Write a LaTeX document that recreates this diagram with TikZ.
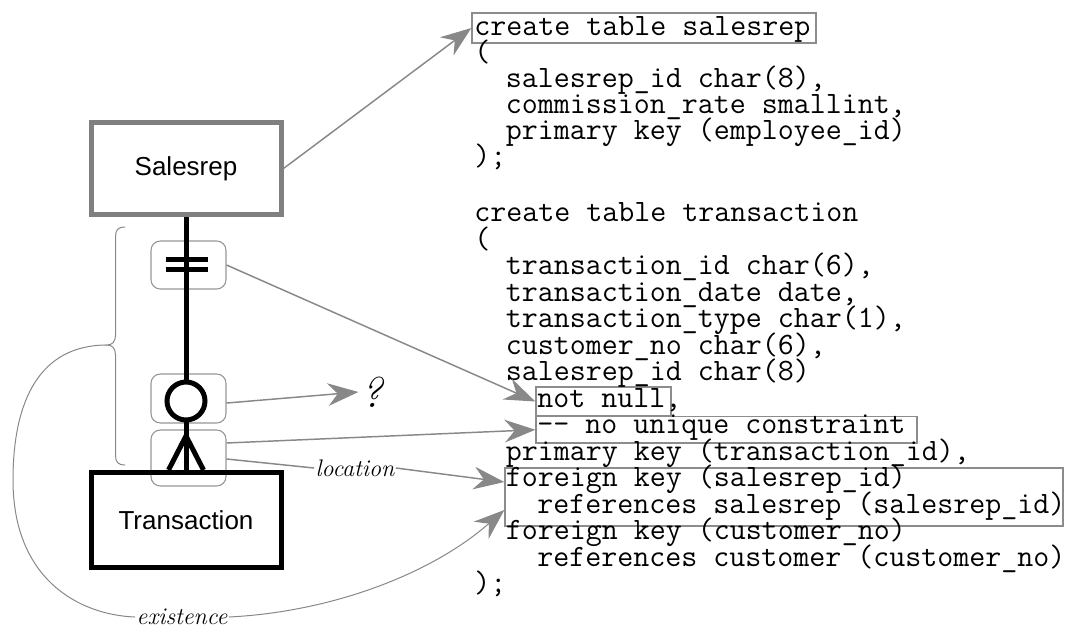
\documentclass[tikz,border=0pt]{standalone}
\usepackage{fontspec}
\newfontfamily\sansf{Liberation Sans}
\usetikzlibrary{arrows.meta,calc}
\definecolor{ag}{RGB}{136,136,136}
\definecolor{bg}{RGB}{140,140,140}
\definecolor{rg}{RGB}{150,150,150}
\definecolor{eg}{RGB}{128,128,128}
\begin{document}
\begin{tikzpicture}[x=0.75pt,y=-0.75pt,
  code/.style={anchor=base west, inner sep=0pt, font=\fontsize{23.3pt}{26pt}\ttfamily},
  codebox/.style={draw=bg, line width=1pt, inner sep=0pt},
  ent/.style={inner sep=0pt, font=\fontsize{19.5pt}{22pt}\sansf},
  rbox/.style={draw=rg, line width=0.8pt, rounded corners=7pt, minimum width=56.25pt, inner sep=0pt},
  arr/.style={draw=ag, line width=1.1pt, -{Stealth[length=23pt,width=17pt,inset=7.5pt]}},
  thinl/.style={draw=ag, line width=0.75pt},
  lbl/.style={inner sep=1pt, font=\fontsize{18pt}{20pt}\selectfont\itshape},
  sym/.style={line width=3.75pt, black}
]
\useasboundingbox (0,0) rectangle (1066,628);

% ---- code boxes
\node[codebox, minimum width=258pt, minimum height=22.5pt] (cs) at (644,28) {};
\node[codebox, minimum width=101.25pt, minimum height=21.75pt] (nn) at (603.5,401.5) {};
\node[codebox, minimum width=285.75pt, minimum height=19.9pt] (nu) at (726.5,429.75) {};
\node[codebox, minimum width=418.5pt, minimum height=43.5pt] (fk) at (784,497) {};

% ---- salesrep table
\node[code] (s0) at (474,35) {create table salesrep};
\node[code] (s1) at (474,61.1) {(};
\node[code] (s2) at (505.6,87.2) {salesrep\_id char(8),};
\node[code] (s3) at (505.6,113.3) {commission\_rate smallint,};
\node[code] (s4) at (505.6,139.4) {primary key (employee\_id)};
\node[code] (s5) at (474,165.5) {);};

% ---- transaction table
\node[code] (t0) at (474,221.5) {create table transaction};
\node[code] (t1) at (474,248) {(};
\node[code] (t2) at (505.6,274.5) {transaction\_id char(6),};
\node[code] (t3) at (505.6,301) {transaction\_date date,};
\node[code] (t4) at (505.6,327.5) {transaction\_type char(1),};
\node[code] (t5) at (505.6,354) {customer\_no char(6),};
\node[code] (t6) at (505.6,380.5) {salesrep\_id char(8)};
\node[code] (t7) at (537.2,407) {not null,};
\node[code] (t8) at (537.2,433.5) {-\kern0pt- no unique constraint};
\node[code] (t9) at (505.6,460) {primary key (transaction\_id),};
\node[code] (t10) at (505.6,486.5) {foreign key (salesrep\_id)};
\node[code] (t11) at (537.2,513) {references salesrep (salesrep\_id)};
\node[code] (t12) at (505.6,539.5) {foreign key (customer\_no)};
\node[code] (t13) at (537.2,566) {references customer (customer\_no)};
\node[code] (t14) at (474,592.5) {);};

% ---- ER diagram
\node[rbox, minimum height=36pt] (r1) at (188.5,265) {};
\node[rbox, minimum height=36.75pt] (r2) at (188.5,398.5) {};
\node[rbox, minimum height=42pt] (r3) at (188.5,458) {};

\node[ent, draw=eg, line width=3.75pt, minimum width=142.5pt, minimum height=69pt] (sr) at (186,168.5) {Salesrep};
\node[ent, draw=black, line width=3.75pt, minimum width=142.5pt, minimum height=71.25pt] (tr) at (186,520) {Transaction};

\draw[sym] (sr.south) -- (tr.north);
\draw[sym] (165.5,259) -- (207.5,259);
\draw[sym] (165.5,269) -- (207.5,269);
\draw[sym, fill=white] (186,401) circle[radius=14.25pt];
\draw[sym, line join=round] (168.5,470) -- (186,436) -- (203.5,470);

% ---- brace
\draw[thinl] (125,227) .. controls (118,227) and (115.5,230) .. (115.5,237) -- (115.5,335)
  .. controls (115.5,342) and (112,345) .. (107,345)
  .. controls (112,345) and (115.5,348) .. (115.5,355) -- (115.5,455)
  .. controls (115.5,462) and (118,465) .. (125,465);
\coordinate (bt) at (107,345);

% ---- labels
\node[lbl] (ex) at (182,617) {existence};
\node[lbl] (loc) at (355,468) {location};
\node[inner sep=2pt, font=\fontsize{32pt}{34pt}\selectfont\itshape] (q) at (372,392) {?};

% ---- connectors
\draw[arr] (sr.east) -- (cs.west);
\draw[arr] (r1.east) -- (nn.west);
\draw[arr] ([yshift=-3.4pt]r2.east) -- (q.west);
\draw[arr] ([yshift=11.25pt]r3.east) -- (nu.west);
\draw[draw=ag, line width=1.1pt] ([yshift=-0.75pt]r3.east) -- (loc.west);
\draw[arr] (loc.east) -- ([yshift=11.25pt]fk.west);
\draw[thinl] (bt) .. controls (40,345) and (13,400) .. (13,480)
  .. controls (13,580) and (80,615) .. (ex.west);
\draw[arr, line width=0.75pt] (ex.east) .. controls (330,612) and (430,575) .. ([yshift=-9.75pt]fk.west);
\end{tikzpicture}
\end{document}
